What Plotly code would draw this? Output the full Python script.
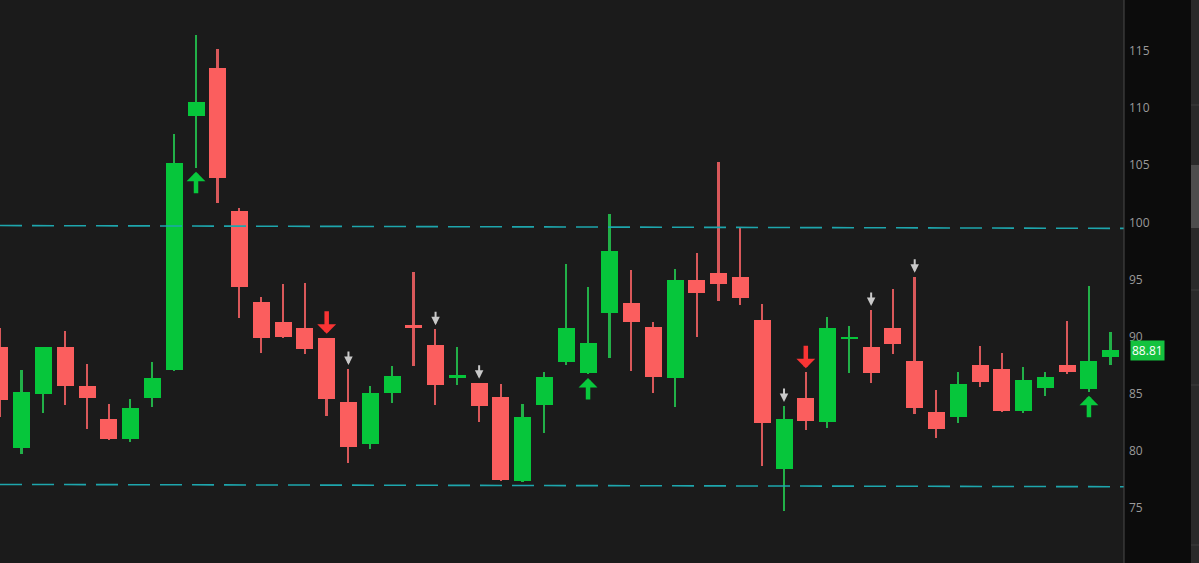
import plotly.graph_objects as go

# ---------------- data ----------------
bar_index = list(range(52))
opens = [89.05, 80.21, 84.94, 89.05, 85.69, 82.78, 81.00, 84.64, 87.08, 109.31,
         113.49, 101.01, 93.00, 91.27, 90.77, 89.84, 84.29, 80.59, 85.03, 90.95,
         89.23, 86.50, 85.90, 84.73, 77.37, 83.98, 87.79, 86.83, 92.03, 92.91,
         90.86, 86.34, 94.95, 95.53, 95.24, 91.44, 78.37, 84.64, 82.49, 89.85,
         89.05, 90.72, 87.83, 83.39, 82.98, 87.50, 87.13, 83.48, 85.49, 87.50,
         85.38, 88.23]
highs = [90.74, 87.07, 89.12, 90.51, 87.59, 84.06, 84.53, 87.74, 107.77, 116.38,
         115.16, 101.23, 93.46, 94.64, 94.66, 89.90, 87.15, 85.69, 87.42, 95.62,
         90.63, 89.05, 85.95, 85.84, 84.06, 86.92, 96.32, 94.36, 100.73, 95.82,
         91.30, 95.88, 97.29, 105.25, 99.52, 92.82, 83.91, 86.87, 91.73, 90.95,
         92.32, 94.16, 95.24, 85.32, 86.92, 89.17, 88.53, 87.30, 86.92, 91.38,
         94.45, 90.39]
lows = [82.98, 79.71, 83.28, 84.00, 81.90, 80.94, 80.79, 83.85, 86.95, 104.78,
        101.70, 91.64, 88.56, 89.84, 88.47, 83.06, 78.95, 80.15, 84.15, 87.42,
        84.00, 85.75, 82.54, 77.39, 77.26, 81.52, 87.50, 86.72, 88.09, 87.01,
        85.03, 83.85, 89.93, 93.13, 92.76, 78.66, 74.72, 81.81, 82.01, 86.83,
        85.90, 88.47, 83.19, 81.14, 82.45, 85.60, 83.39, 83.28, 84.79, 86.69,
        85.17, 87.50]
closes = [84.44, 85.17, 89.05, 85.69, 84.64, 81.00, 83.77, 86.37, 105.22, 110.57,
          103.84, 94.38, 89.84, 90.00, 88.93, 84.53, 80.30, 85.08, 86.54, 90.85,
          85.75, 86.58, 83.94, 77.43, 82.98, 86.48, 90.72, 89.40, 97.51, 91.27,
          86.48, 94.95, 93.78, 94.57, 93.41, 82.40, 82.78, 82.60, 90.77, 89.93,
          86.83, 89.34, 83.77, 81.93, 85.87, 85.99, 83.50, 86.16, 86.45, 86.92,
          87.88, 88.81]

buy_signals = [9, 27, 50]                 # green up arrows
sell_signals = [15, 37]                   # red down arrows
warn_signals = [16, 20, 22, 36, 40, 42]   # small grey down arrows

resistance_x = [0.0, 51.61]
resistance_y = [99.72, 99.47]
support_x = [0.0, 51.61]
support_y = [77.05, 76.85]

y_ticks = [70, 75, 80, 85, 90, 95, 100, 105, 110, 115]
last_price = closes[-1]

# ---------------- style ----------------
GREEN = "#06c63b"
RED = "#fb5e5e"
GREEN_WICK = "#22b048"
RED_WICK = "#d9585a"
CYAN = "#1ea6ad"
PLOT_BG = "#1b1b1b"
AXIS_BG = "#0c0c0c"
MIN_BODY = 0.17

is_up = [c >= o for o, c in zip(opens, closes)]
body_h = [max(abs(c - o), MIN_BODY) for o, c in zip(opens, closes)]
body_base = [(o + c) / 2 - h / 2 for o, c, h in zip(opens, closes, body_h)]
wick_h = [h - l for h, l in zip(highs, lows)]
body_col = [GREEN if u else RED for u in is_up]
wick_col = [GREEN_WICK if u else RED_WICK for u in is_up]

fig = go.Figure()

# support / resistance dashed lines
for xs, ys in [(resistance_x, resistance_y), (support_x, support_y)]:
    fig.add_trace(go.Scatter(x=xs, y=ys, mode="lines",
                             line=dict(color=CYAN, width=1.6, dash="22px,10px"),
                             hoverinfo="skip", showlegend=False))

# wicks
fig.add_trace(go.Bar(x=bar_index, y=wick_h, base=lows, width=0.075,
                     marker=dict(color=wick_col, line=dict(width=0)),
                     showlegend=False, hoverinfo="skip"))
# bodies
fig.add_trace(go.Bar(x=bar_index, y=body_h, base=body_base, width=0.78,
                     marker=dict(color=body_col, line=dict(width=0)),
                     showlegend=False,
                     customdata=list(zip(opens, highs, lows, closes)),
                     hovertemplate="O %{customdata[0]}<br>H %{customdata[1]}<br>"
                                   "L %{customdata[2]}<br>C %{customdata[3]}<extra></extra>"))

annotations = []
for i in buy_signals:
    annotations.append(dict(x=bar_index[i], y=lows[i], xref="x", yref="y", text="",
                            showarrow=True, ax=0, ay=27, standoff=4,
                            arrowhead=1, arrowsize=0.7, arrowwidth=4.5,
                            arrowcolor="#08c83c"))
for i in sell_signals:
    annotations.append(dict(x=bar_index[i], y=highs[i], xref="x", yref="y", text="",
                            showarrow=True, ax=0, ay=-28, standoff=4,
                            arrowhead=1, arrowsize=0.7, arrowwidth=4.5,
                            arrowcolor="#f83434"))
for i in warn_signals:
    annotations.append(dict(x=bar_index[i], y=highs[i], xref="x", yref="y", text="",
                            showarrow=True, ax=0, ay=-19, standoff=4,
                            arrowhead=2, arrowsize=0.85, arrowwidth=2,
                            arrowcolor="#c9c9c9"))

# last price bubble
annotations.append(dict(x=1.0, xref="paper", y=last_price, yref="y",
                        xanchor="left", yanchor="middle", xshift=6,
                        text=f"{last_price:.2f}", showarrow=False,
                        font=dict(family="Open Sans, sans-serif", size=12, color="#ffffff"),
                        bgcolor="#14c23f", borderpad=1))

shapes = [
    # axis separator
    dict(type="line", xref="paper", yref="paper", x0=1, x1=1, y0=0, y1=1,
         line=dict(color="#4a4a4a", width=1)),
    # side panel strip
    dict(type="rect", xref="paper", yref="paper", x0=1191 / 1124, x1=1.07, y0=0, y1=1,
         fillcolor="#2a2a2a", line=dict(width=0), layer="above"),
    dict(type="rect", xref="paper", yref="paper", x0=1191 / 1124, x1=1.07,
         y0=1 - 228 / 563, y1=1 - 165 / 563,
         fillcolor="#4d4d4d", line=dict(width=0), layer="above"),
]
for py in [105, 290, 385, 545]:
    shapes.append(dict(type="line", xref="paper", yref="paper", x0=1191 / 1124, x1=1.07,
                       y0=1 - py / 563, y1=1 - py / 563,
                       line=dict(color="#3c3c3c", width=1), layer="above"))

fig.update_layout(
    width=1199, height=563,
    margin=dict(l=0, r=75, t=0, b=0),
    paper_bgcolor=AXIS_BG, plot_bgcolor=PLOT_BG,
    barmode="overlay", bargap=0,
    showlegend=False,
    annotations=annotations, shapes=shapes,
    xaxis=dict(range=[0.0, 51.61], showgrid=False, zeroline=False,
               showticklabels=False, ticks="", fixedrange=True),
    yaxis=dict(range=[70.17, 119.47], side="right", tickvals=y_ticks,
               ticktext=[str(t) for t in y_ticks], showgrid=False, zeroline=False,
               ticks="", ticklabelstandoff=4,
               tickfont=dict(family="Open Sans, sans-serif", size=12, color="#9a9a9a")),
    font=dict(family="Open Sans, sans-serif"),
)

fig.write_html("out.html", config={"displayModeBar": False},
               post_script="document.body.style.margin='0';")
